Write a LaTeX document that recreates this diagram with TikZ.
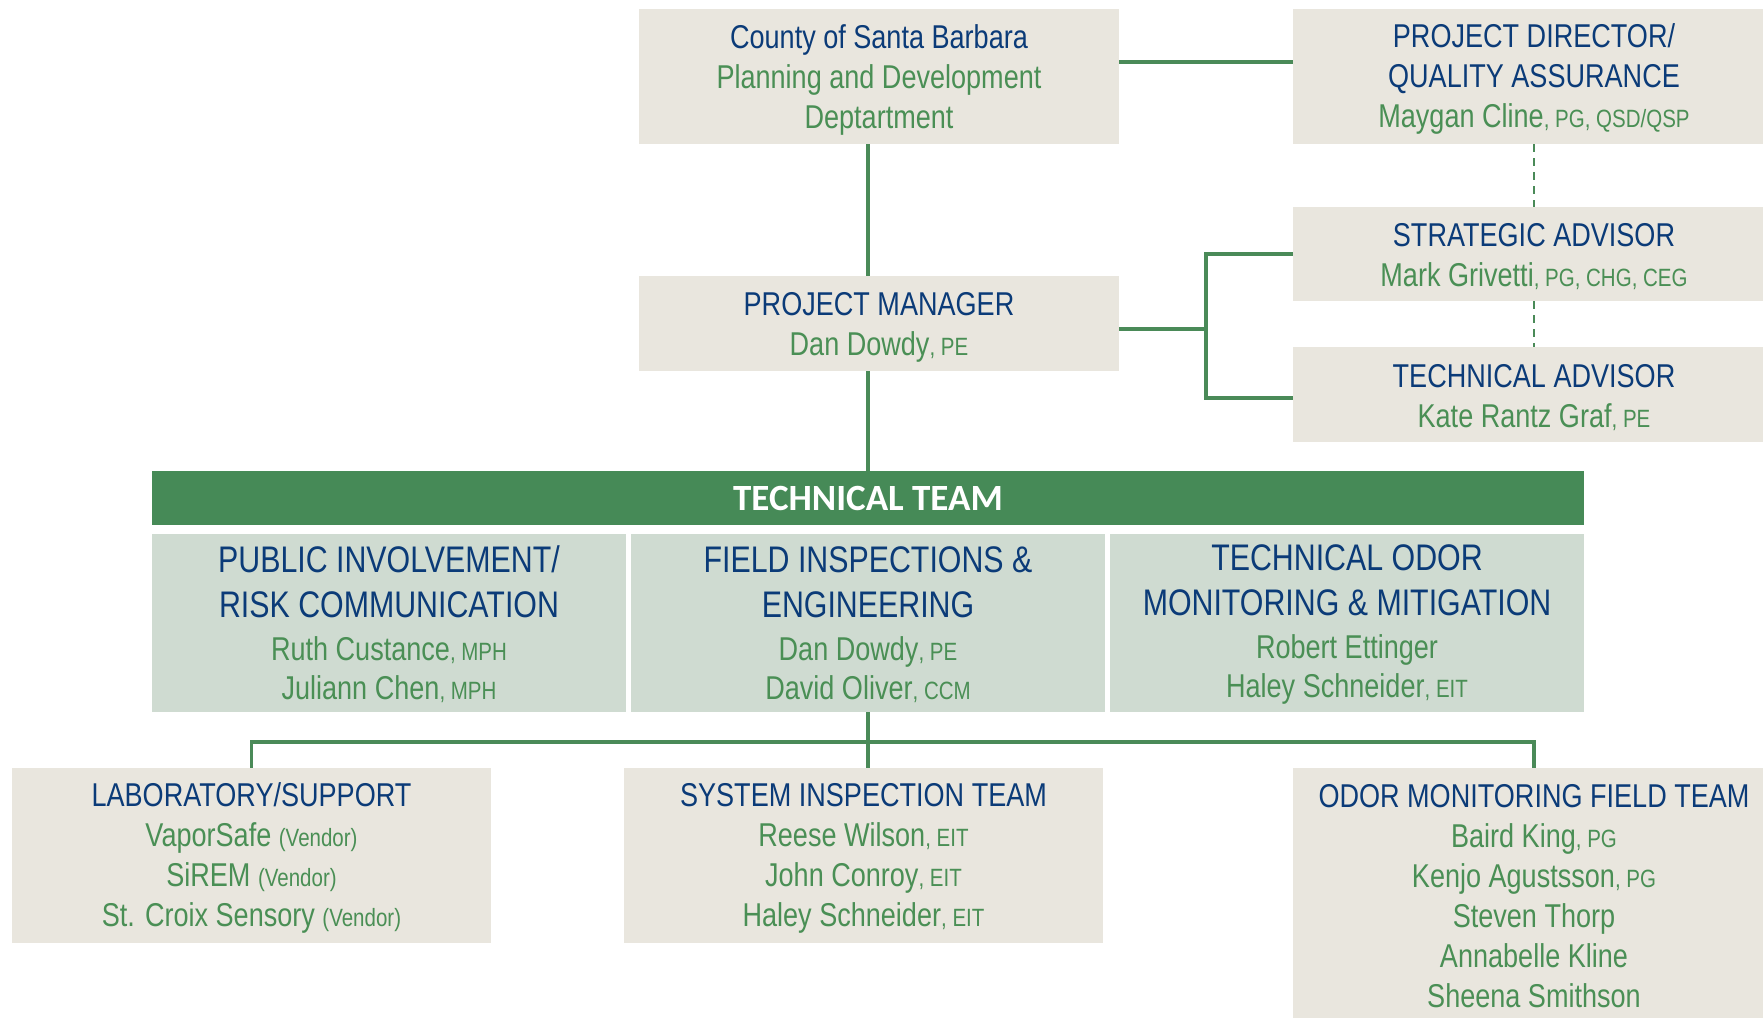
\documentclass[tikz,border=0pt]{standalone}
\usepackage{fontspec}
\setmainfont{Liberation Sans}[FakeStretch=0.82]
\newfontfamily\teamfont{Carlito}
\definecolor{navy}{HTML}{0B3B78}
\definecolor{gtext}{HTML}{4A8F55}
\definecolor{beige}{HTML}{E9E6DE}
\definecolor{teamfill}{HTML}{CFDBD1}
\definecolor{barg}{HTML}{468A57}
\definecolor{lineg}{HTML}{4A8A58}
\newcommand\basefont{\fontsize{16.5}{20}\selectfont}
\newcommand\teambasefont{\fontsize{16.5}{19.5}\selectfont}
\newcommand\hd[1]{\textcolor{navy}{#1}}
\newcommand\nm[1]{\textcolor{gtext}{#1}}
\newcommand\crd[1]{{\fontsize{12.5}{15}\selectfont#1}}
\newcommand\bigh[1]{\textcolor{navy}{\fontsize{18.5}{22.5}\selectfont #1}}
\begin{document}
\begin{tikzpicture}[x=0.5pt,y=-0.5pt,
  box/.style={fill=beige, inner sep=0pt},
  tbox/.style={fill=teamfill, inner sep=0pt, minimum width=237pt, minimum height=89pt},
  txt/.style={inner sep=0pt, align=center, font=\basefont},
  ttxt/.style={inner sep=0pt, align=center, font=\teambasefont},
  link/.style={draw=lineg, line width=1.7pt},
  dlink/.style={draw=lineg, line width=1pt, dash pattern=on 4pt off 3pt}]
\useasboundingbox (0,0) rectangle (1763,1018);

% boxes
\node[box, minimum width=240pt, minimum height=67.5pt] (county) at (879,76.5) {};
\node[box, minimum width=241pt, minimum height=67.5pt] (pd) at (1534,76.5) {};
\node[box, minimum width=241pt, minimum height=47pt] (strat) at (1534,254) {};
\node[box, minimum width=241pt, minimum height=47.5pt] (tadv) at (1534,394.5) {};
\node[box, minimum width=240pt, minimum height=47.5pt] (pm) at (879,323.5) {};
\node[fill=barg, minimum width=716pt, minimum height=27pt, inner sep=0pt, text=white,
  font=\teamfont\bfseries\fontsize{18.5}{22}\selectfont] (bar) at (868,498) {TECHNICAL TEAM};
\node[tbox] (t1) at (389,623) {};
\node[tbox] (t2) at (868,623) {};
\node[tbox] (t3) at (1347,623) {};
\node[box, minimum width=239.5pt, minimum height=87.5pt] (lab) at (251.5,855.5) {};
\node[box, minimum width=239.5pt, minimum height=87.5pt] (sys) at (863.5,855.5) {};
\node[box, minimum width=241pt, minimum height=135pt, anchor=north] (odor) at (1534,768) {};

% texts
\node[txt] (countyT) at ([yshift=-1.7pt]county.center)
  {\hd{County of Santa Barbara}\\\nm{Planning and Development}\\\nm{Deptartment}};
\node[txt] (pdT) at ([yshift=-1.4pt]pd.center)
  {\hd{PROJECT DIRECTOR/}\\\hd{QUALITY ASSURANCE}\\\nm{Maygan Cline\crd{, PG, QSD/QSP}}};
\node[txt] (stratT) at ([yshift=-1.4pt]strat.center)
  {\hd{STRATEGIC ADVISOR}\\\nm{Mark Grivetti\crd{, PG, CHG, CEG}}};
\node[txt] (tadvT) at ([yshift=-1.7pt]tadv.center)
  {\hd{TECHNICAL ADVISOR}\\\nm{Kate Rantz Graf\crd{, PE}}};
\node[txt] (pmT) at ([yshift=-1.7pt]pm.center)
  {\hd{PROJECT MANAGER}\\\nm{Dan Dowdy\crd{, PE}}};

\node[ttxt] (t1T) at ([yshift=-0.8pt]t1.center)
  {\bigh{PUBLIC INVOLVEMENT/}\\[3pt]\bigh{RISK COMMUNICATION}\\[2pt]\nm{Ruth Custance\crd{, MPH}}\\\nm{Juliann Chen\crd{, MPH}}};
\node[ttxt] (t2T) at ([yshift=-0.8pt]t2.center)
  {\bigh{FIELD INSPECTIONS \&}\\[3pt]\bigh{ENGINEERING}\\[2pt]\nm{Dan Dowdy\crd{, PE}}\\\nm{David Oliver\crd{, CCM}}};
\node[ttxt] (t3T) at ([yshift=-0.8pt]t3.center)
  {\bigh{TECHNICAL ODOR}\\[3pt]\bigh{MONITORING \& MITIGATION}\\[2pt]\nm{Robert Ettinger}\\\nm{Haley Schneider\crd{, EIT}}};

\node[txt] (labT) at ([yshift=-1.4pt]lab.center)
  {\hd{LABORATORY/SUPPORT}\\\nm{VaporSafe \crd{(Vendor)}}\\\nm{SiREM \crd{(Vendor)}}\\\nm{St. Croix Sensory \crd{(Vendor)}}};
\node[txt] (sysT) at ([yshift=-1.4pt]sys.center)
  {\hd{SYSTEM INSPECTION TEAM}\\\nm{Reese Wilson\crd{, EIT}}\\\nm{John Conroy\crd{, EIT}}\\\nm{Haley Schneider\crd{, EIT}}};
\node[txt] (odorT) at (1534,896)
  {\hd{ODOR MONITORING FIELD TEAM}\\\nm{Baird King\crd{, PG}}\\\nm{Kenjo Agustsson\crd{, PG}}\\\nm{Steven Thorp}\\\nm{Annabelle Kline}\\\nm{Sheena Smithson}};

% connectors
\draw[link] ([yshift=7.25pt]county.east) -- ([yshift=7.25pt]county.east -| pd.west);
\draw[link] (county.south -| bar.north) -- (pm.north -| bar.north);
\draw[link] (pm.south -| bar.north) -- (bar.north);
\coordinate (j1) at (1206,329);
\draw[link] ([yshift=-2.75pt]pm.east) -- (j1);
\draw[link] (strat.west) -| (j1) |- ([yshift=-1.75pt]tadv.west);
\draw[dlink] (pd.south) -- (strat.north);
\draw[dlink] (strat.south) -- (tadv.north);
\coordinate (bus) at (868,742);
\draw[link] (t2.south) -- (t2.south |- sys.north);
\draw[link] (lab.north) |- (bus) -| (odor.north);
\end{tikzpicture}
\end{document}
